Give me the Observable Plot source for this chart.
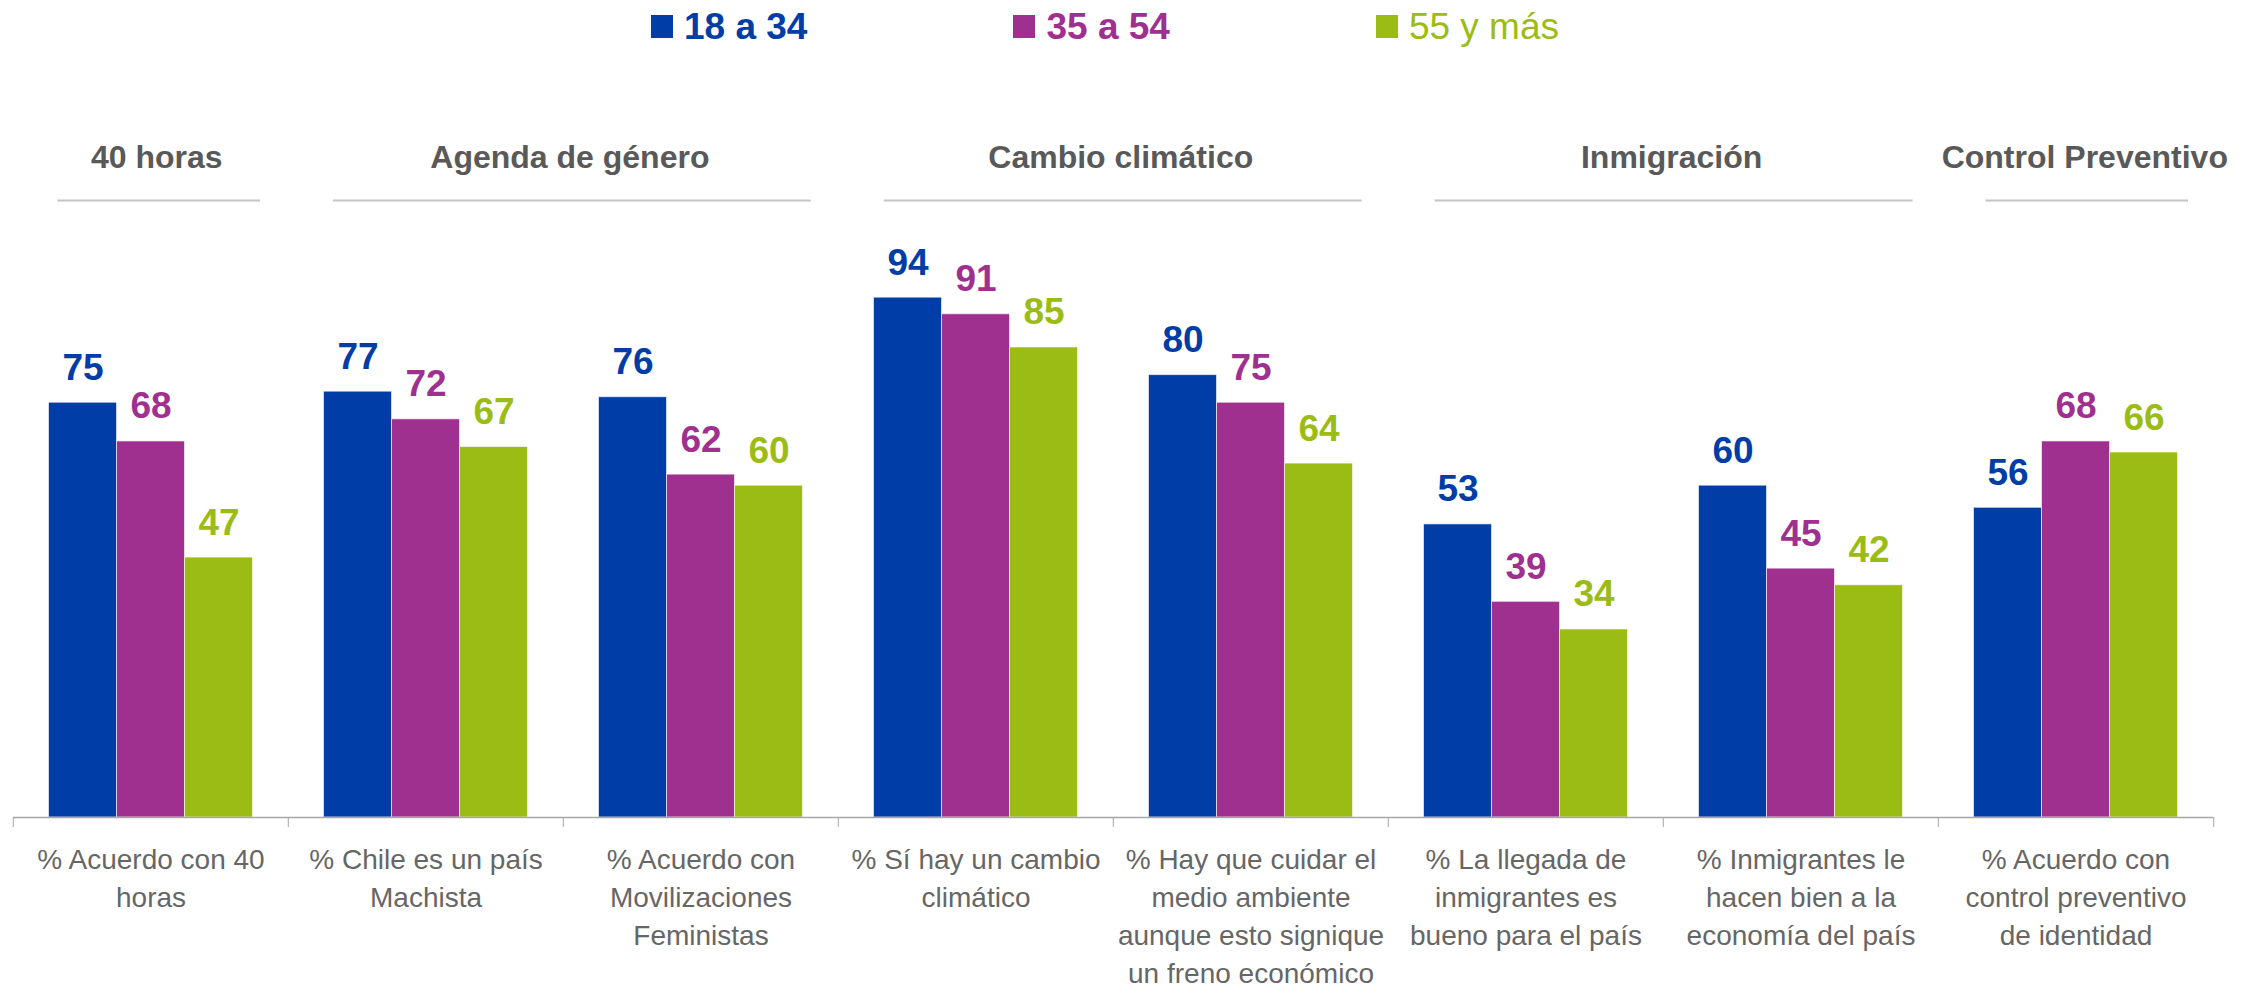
<!DOCTYPE html>
<html>
<head>
<meta charset="utf-8">
<script src="https://cdn.jsdelivr.net/npm/d3@7"></script>
<script src="https://cdn.jsdelivr.net/npm/@observablehq/plot@0.6"></script>
<style>
  html, body { margin: 0; padding: 0; background: #fff; }
  body { width: 2259px; height: 988px; overflow: hidden; font-family: "Liberation Sans", Arial, sans-serif; }
  #legend { height: 52px; display: flex; align-items: center; padding-left: 651px; gap: 206px; }
  .item { display: flex; align-items: center; font-size: 37px; line-height: 1; }
  .sw { width: 22px; height: 23px; margin-right: 11px; }
  svg { display: block; }
</style>
</head>
<body>
<div id="legend"></div>
<div id="headers"></div>
<div id="chart"></div>
<script>
// ---- data ----
const series = ["18 a 34", "35 a 54", "55 y más"];
const colors = ["#003DA6", "#A0308F", "#9BBC15"];
const categories = [
  "% Acuerdo con 40\nhoras",
  "% Chile es un país\nMachista",
  "% Acuerdo con\nMovilizaciones\nFeministas",
  "% Sí hay un cambio\nclimático",
  "% Hay que cuidar el\nmedio ambiente\naunque esto signique\nun freno económico",
  "% La llegada de\ninmigrantes es\nbueno para el país",
  "% Inmigrantes le\nhacen bien a la\neconomía del país",
  "% Acuerdo con\ncontrol preventivo\nde identidad"
];
const values18 = [75, 77, 76, 94, 80, 53, 60, 56];
const values35 = [68, 72, 62, 91, 75, 39, 45, 68];
const values55 = [47, 67, 60, 85, 64, 34, 42, 66];
const groupNames = ["40 horas", "Agenda de género", "Cambio climático", "Inmigración", "Control Preventivo"];
const groupSpans = [1, 2, 2, 2, 1];

// ---- derived tables ----
const seriesValues = [values18, values35, values55];
const rows = [];
categories.forEach((c, i) => series.forEach((s, j) => rows.push({cat: c, series: s, value: seriesValues[j][i]})));
let acc = 0;
const groups = groupNames.map((name, i) => { const g = {name, start: acc, end: acc + groupSpans[i]}; acc += groupSpans[i]; return g; });

// ---- legend ----
const legend = document.getElementById("legend");
series.forEach((s, i) => {
  const it = document.createElement("div");
  it.className = "item";
  it.style.color = colors[i];
  it.style.fontWeight = i < 2 ? "bold" : "normal";
  const sw = document.createElement("div");
  sw.className = "sw";
  sw.style.background = colors[i];
  it.appendChild(sw);
  it.appendChild(document.createTextNode(s));
  legend.appendChild(it);
});

const W = 2259, ML = 11.5, MR = 44;
const facetW = (W - ML - MR) / categories.length;
const font = "'Liberation Sans', Arial, sans-serif";

// ---- header row ----
const headerPlot = Plot.plot({
  width: W, height: 168,
  marginLeft: ML, marginRight: MR, marginTop: 0, marginBottom: 0,
  style: {fontFamily: font, background: "transparent"},
  x: {domain: [0, categories.length], axis: null},
  marks: [
    Plot.text(groups, {x: d => (d.start + d.end) / 2, text: "name", frameAnchor: "top", dy: 105, dx: 7, lineAnchor: "middle",
      fontSize: 32, fontWeight: "bold", fill: "#595959"}),
    Plot.ruleY(groups, {y: null, x1: "start", x2: "end", insetLeft: 46, insetRight: 27, dy: 64, stroke: "#c4c4c4", strokeWidth: 2})
  ]
});
document.getElementById("headers").appendChild(headerPlot);

// ---- main chart ----
const chart = Plot.plot({
  width: W, height: 768,
  marginLeft: ML, marginRight: MR, marginTop: 44, marginBottom: 171,
  style: {fontFamily: font, background: "transparent"},
  fx: {domain: categories, padding: 0, label: null},
  x: {domain: series, paddingInner: 0, paddingOuter: 0.5, axis: null},
  y: {domain: [0, 100], axis: null},
  color: {domain: series, range: colors},
  marks: [
    Plot.barY(rows, {fx: "cat", x: "series", y: "value", fill: "series", stroke: "white", strokeOpacity: 0.6, strokeWidth: 1}),
    Plot.text(rows, {fx: "cat", x: "series", y: "value", text: d => String(d.value), fill: "series",
      lineAnchor: "bottom", dy: -23, fontSize: 37, fontWeight: "bold"}),
    Plot.ruleY([0], {stroke: "#a6a6a6", strokeWidth: 1.5}),
    Plot.axisFx({anchor: "bottom", tickSize: 10, fill: "none", stroke: "#a6a6a6", label: null, dx: -facetW / 2}),
    Plot.axisFx({anchor: "bottom", ticks: [categories[categories.length - 1]], tickSize: 10, fill: "none", stroke: "#a6a6a6", label: null, dx: facetW / 2}),
    Plot.axisFx({anchor: "bottom", tickSize: 0, tickPadding: 24, fontSize: 28, lineHeight: 1.36, fill: "#666", label: null})
  ]
});
document.getElementById("chart").appendChild(chart);
</script>
</body>
</html>
